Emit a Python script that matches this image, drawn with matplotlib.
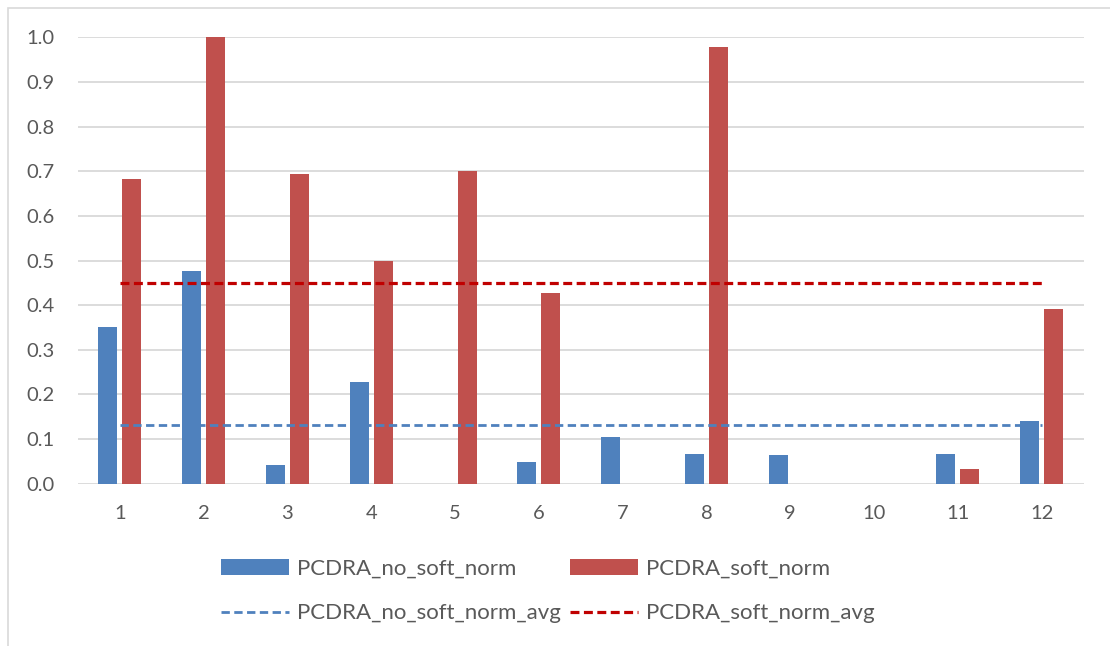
import numpy as np
import matplotlib
matplotlib.use("Agg")
import matplotlib.pyplot as plt
from matplotlib.patches import Rectangle

# Data
categories = [1, 2, 3, 4, 5, 6, 7, 8, 9, 10, 11, 12]
no_soft_norm = [0.352, 0.477, 0.043, 0.228, 0.0, 0.049, 0.105, 0.066, 0.064, 0.0, 0.066, 0.140]
soft_norm = [0.683, 1.0, 0.693, 0.499, 0.700, 0.427, 0.0, 0.979, 0.0, 0.0, 0.032, 0.391]
y_ticks = [0.0, 0.1, 0.2, 0.3, 0.4, 0.5, 0.6, 0.7, 0.8, 0.9, 1.0]

no_soft_avg = float(np.mean(no_soft_norm))
soft_avg = float(np.mean(soft_norm))

BLUE = "#4F81BD"
RED = "#C0504D"
DARK_RED = "#C00000"
GRID = "#D9D9D9"
TEXT = "#595959"

plt.rcParams["font.family"] = ["Lato", "DejaVu Sans"]

fig = plt.figure(figsize=(11.10, 6.46), dpi=100)
W, H = 1110, 646
ax = fig.add_axes([78 / W, 1 - 483.7 / H, (1083.6 - 78) / W, (483.7 - 37.3) / H])

x = np.array(categories, dtype=float)
bw = 0.225
off = 0.1435
bars_b = ax.bar(x - off, no_soft_norm, width=bw, color=BLUE, zorder=3)
bars_r = ax.bar(x + off, soft_norm, width=bw, color=RED, zorder=3)

line_b, = ax.plot([categories[0], categories[-1]], [no_soft_avg, no_soft_avg], color=BLUE,
                  lw=2.0, dashes=(3.0, 1.6), zorder=4)
line_r, = ax.plot([categories[0], categories[-1]], [soft_avg, soft_avg], color=DARK_RED,
                  lw=2.3, dashes=(2.8, 1.4), zorder=4)

ax.set_xlim(0.5, 12.5)
ax.set_ylim(0, 1.0)
ax.set_xticks(categories)
ax.set_xticklabels([str(c) for c in categories])
ax.set_yticks(y_ticks)
ax.set_yticklabels([f"{v:.1f}" for v in y_ticks])
ax.tick_params(axis="both", length=0, labelsize=14.5, colors=TEXT)
ax.tick_params(axis="x", pad=15)
ax.tick_params(axis="y", pad=17)
for s in ax.spines.values():
    s.set_visible(False)
ax.yaxis.grid(True, color=GRID, lw=1.3, zorder=0)
ax.set_axisbelow(True)
ax.patch.set_visible(False)

fig.legend([bars_b, line_b, bars_r, line_r],
           ["PCDRA_no_soft_norm", "PCDRA_no_soft_norm_avg",
            "PCDRA_soft_norm", "PCDRA_soft_norm_avg"],
           ncol=2, loc="center", bbox_to_anchor=(547.5 / W, 1 - 591 / H),
           frameon=False, fontsize=16, labelcolor=TEXT,
           handlelength=3.06, handleheight=0.68, handletextpad=0.36,
           columnspacing=0.4, labelspacing=1.1)

# outer chart border
fig.add_artist(Rectangle((8 / W, -0.01), 1.02, 1 - 8 / H + 0.01, transform=fig.transFigure,
                         fill=False, edgecolor=GRID, lw=1.2))

fig.savefig("out.png", dpi=100)
